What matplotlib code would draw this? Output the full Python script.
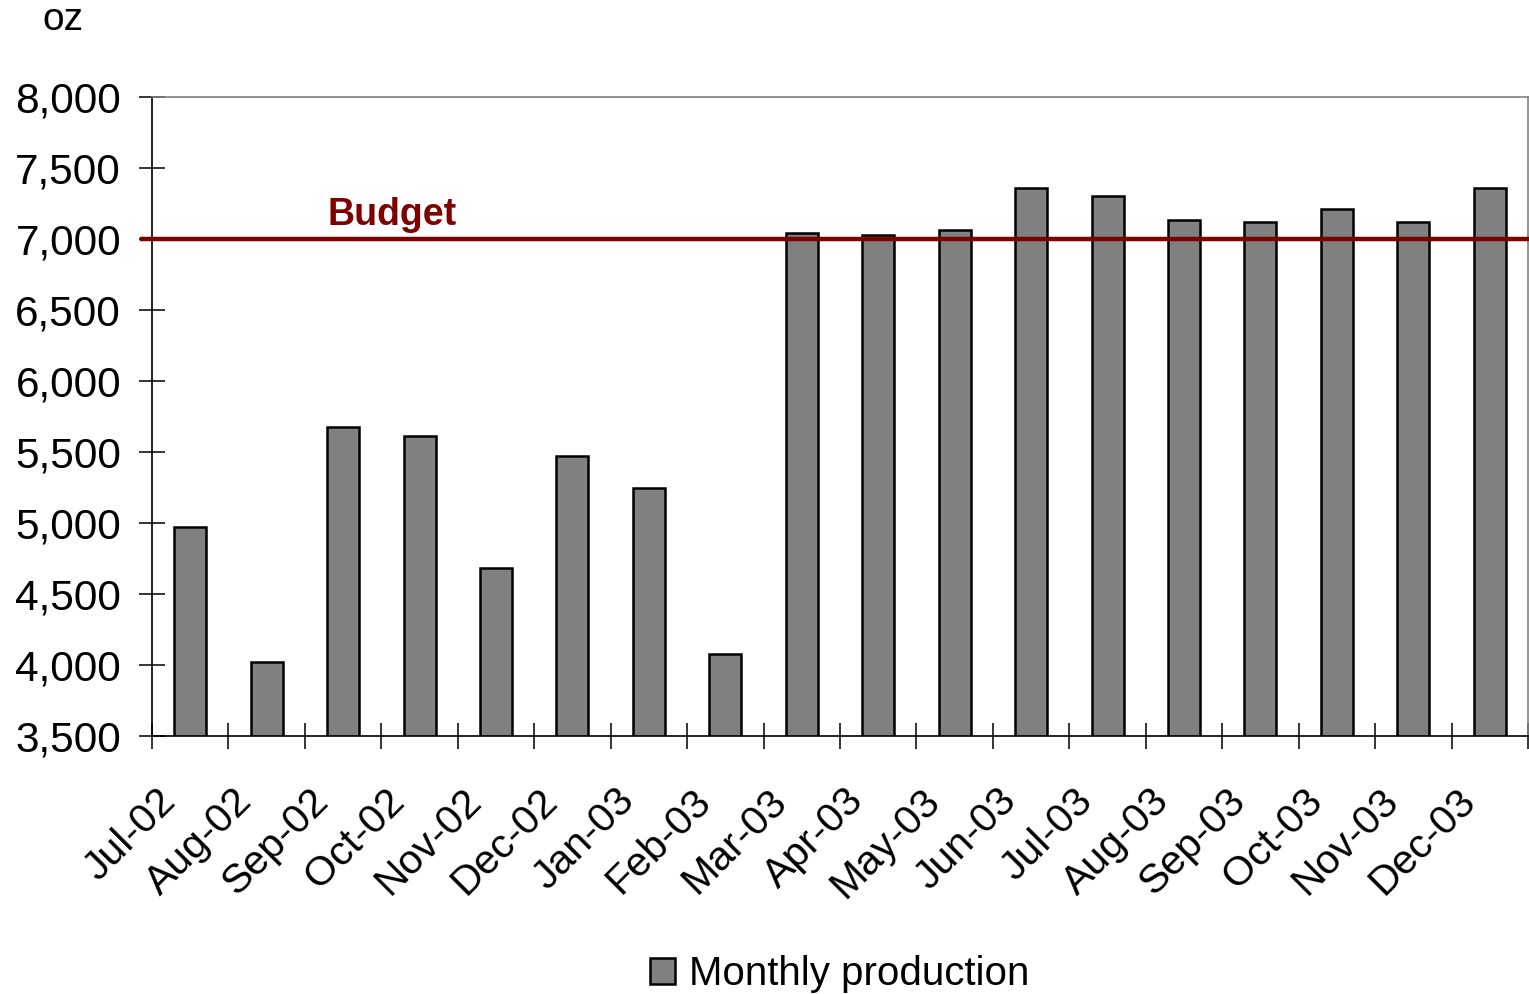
import matplotlib.pyplot as plt
import matplotlib.transforms as mtransforms
import numpy as np

# Monthly production (oz)
meses = ['Jul-02', 'Aug-02', 'Sep-02', 'Oct-02', 'Nov-02', 'Dec-02', 'Jan-03', 'Feb-03',
         'Mar-03', 'Apr-03', 'May-03', 'Jun-03', 'Jul-03', 'Aug-03', 'Sep-03', 'Oct-03',
         'Nov-03', 'Dec-03']
produccion = [4975, 4020, 5675, 5610, 4685, 5475, 5245, 4075,
              7045, 7030, 7060, 7360, 7300, 7135, 7120, 7210,
              7120, 7360]
presupuesto = 7000

plt.rcParams['font.family'] = ['Liberation Sans', 'DejaVu Sans']

fig = plt.figure(figsize=(15.29, 9.94), dpi=100)
ax = fig.add_axes([152 / 1529, 258 / 994, 1376 / 1529, 639 / 994])

x = np.arange(len(meses))
ax.bar(x, produccion, width=0.42, color='#808080', edgecolor='black', linewidth=1.8,
       label='Monthly production', zorder=2)

# linea de presupuesto
ax.plot([-0.63, len(meses) - 0.5], [presupuesto, presupuesto], color='#800000',
        linewidth=3.2, clip_on=False, zorder=3)
ax.text(1.8, presupuesto + 45, 'Budget', color='#800000', fontsize=27,
        fontweight='bold', va='bottom', ha='left')

ax.set_xlim(-0.5, len(meses) - 0.5)
ax.set_ylim(3500, 8000)
ax.set_yticks(np.arange(3500, 8001, 500))
ax.set_yticklabels([f'{v:,}' for v in np.arange(3500, 8001, 500)])

# ticks entre categorias, etiquetas en el centro
ax.set_xticks(np.arange(-0.5, len(meses), 1.0))
ax.set_xticklabels([])
ax.set_xticks(x, minor=True)
ax.set_xticklabels(meses, minor=True, rotation=45, ha='right', va='baseline',
                   rotation_mode='anchor')
ax.tick_params(axis='x', which='minor', length=0, labelsize=29.5, pad=48)
ax.tick_params(axis='x', which='major', direction='inout', length=18.5, width=1.1)
ax.tick_params(axis='y', direction='inout', length=18.5, width=1.1, labelsize=30.5, pad=13)

desplazar = mtransforms.ScaledTranslation(-13 / 100, 0, fig.dpi_scale_trans)
for etiqueta in ax.get_xticklabels(minor=True):
    etiqueta.set_transform(etiqueta.get_transform() + desplazar)

for lado in ['top', 'right']:
    ax.spines[lado].set_color('#808080')
    ax.spines[lado].set_linewidth(1.2)
for lado in ['left', 'bottom']:
    ax.spines[lado].set_color('black')
    ax.spines[lado].set_linewidth(1.2)

fig.text(42 / 1529, 1 - 20 / 994, 'oz', fontsize=28, va='center', ha='left')

ax.legend(loc='center', bbox_to_anchor=(0.5, -0.373), frameon=False, fontsize=29,
          handlelength=0.62, handleheight=0.62, handletextpad=0.35)

fig.savefig('out.png', dpi=100)
